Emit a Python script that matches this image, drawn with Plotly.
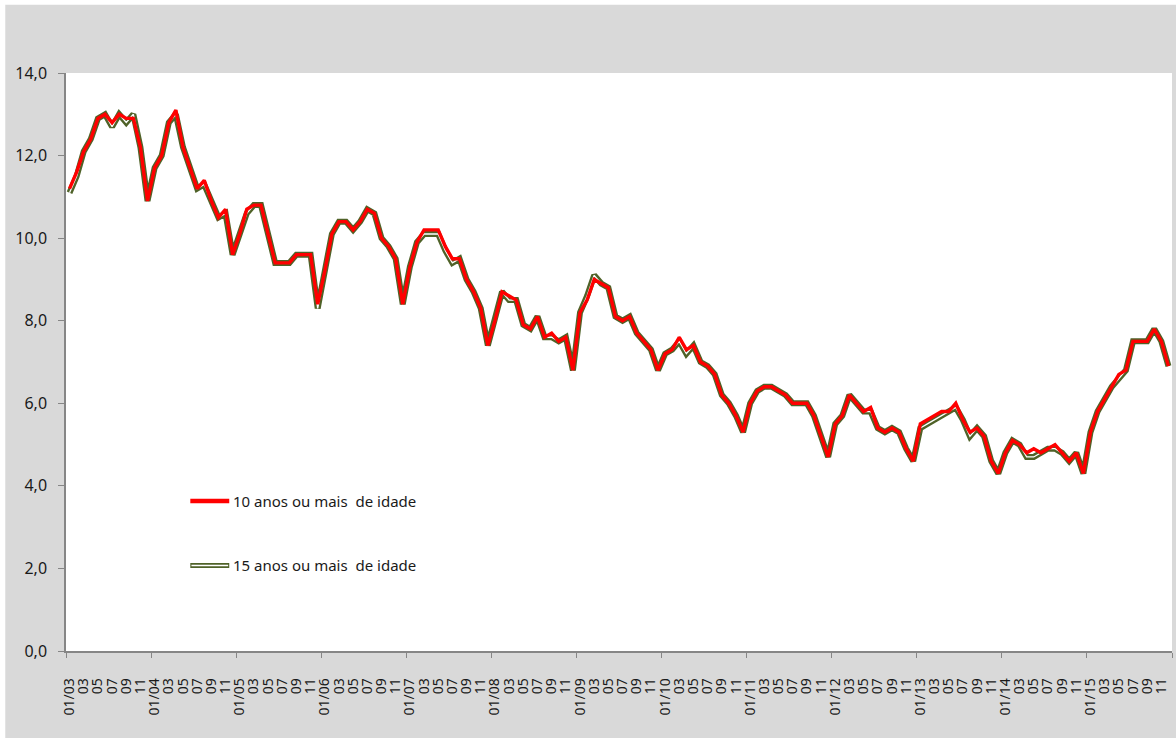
import plotly.graph_objects as go

# Monthly unemployment rate (%), Jan/2003 .. Dec/2015
years = list(range(2003, 2016))
months = ["01", "02", "03", "04", "05", "06", "07", "08", "09", "10", "11", "12"]

taxa_10_anos = [
    11.2, 11.6, 12.1, 12.4, 12.9, 13.0, 12.8, 13.0, 12.9, 12.9, 12.2, 10.9,  # 2003
    11.7, 12.0, 12.8, 13.1, 12.2, 11.7, 11.2, 11.4, 10.9, 10.5, 10.7, 9.6,   # 2004
    10.1, 10.7, 10.8, 10.8, 10.1, 9.4, 9.4, 9.4, 9.6, 9.6, 9.6, 8.4,         # 2005
    9.2, 10.1, 10.4, 10.4, 10.2, 10.4, 10.7, 10.6, 10.0, 9.8, 9.5, 8.4,      # 2006
    9.3, 9.9, 10.2, 10.2, 10.2, 9.8, 9.5, 9.5, 9.0, 8.7, 8.3, 7.4,           # 2007
    8.0, 8.7, 8.6, 8.5, 7.9, 7.8, 8.1, 7.6, 7.7, 7.5, 7.6, 6.8,              # 2008
    8.2, 8.5, 9.0, 8.9, 8.8, 8.1, 8.0, 8.1, 7.7, 7.5, 7.3, 6.8,              # 2009
    7.2, 7.3, 7.6, 7.3, 7.4, 7.0, 6.9, 6.7, 6.2, 6.0, 5.7, 5.3,              # 2010
    6.0, 6.3, 6.4, 6.4, 6.3, 6.2, 6.0, 6.0, 6.0, 5.7, 5.2, 4.7,              # 2011
    5.5, 5.7, 6.2, 6.0, 5.8, 5.9, 5.4, 5.3, 5.4, 5.3, 4.9, 4.6,              # 2012
    5.5, 5.6, 5.7, 5.8, 5.8, 6.0, 5.6, 5.3, 5.4, 5.2, 4.6, 4.3,              # 2013
    4.8, 5.1, 5.0, 4.8, 4.9, 4.8, 4.9, 5.0, 4.8, 4.6, 4.8, 4.3,              # 2014
    5.3, 5.8, 6.1, 6.4, 6.7, 6.8, 7.5, 7.5, 7.5, 7.8, 7.5, 6.9,              # 2015
]

taxa_15_anos = [
    11.1, 11.5, 12.1, 12.4, 12.9, 13.0, 12.7, 13.0, 12.8, 13.0, 12.2, 10.9,  # 2003
    11.7, 12.0, 12.8, 13.0, 12.2, 11.7, 11.2, 11.3, 10.9, 10.5, 10.6, 9.6,   # 2004
    10.1, 10.6, 10.8, 10.8, 10.1, 9.4, 9.4, 9.4, 9.6, 9.6, 9.6, 8.3,         # 2005
    9.2, 10.1, 10.4, 10.4, 10.2, 10.4, 10.7, 10.6, 10.0, 9.8, 9.5, 8.4,      # 2006
    9.3, 9.9, 10.1, 10.1, 10.1, 9.7, 9.4, 9.5, 9.0, 8.7, 8.3, 7.4,           # 2007
    8.0, 8.7, 8.5, 8.5, 7.9, 7.8, 8.1, 7.6, 7.6, 7.5, 7.6, 6.8,              # 2008
    8.2, 8.6, 9.1, 8.9, 8.8, 8.1, 8.0, 8.1, 7.7, 7.5, 7.3, 6.8,              # 2009
    7.2, 7.3, 7.5, 7.2, 7.4, 7.0, 6.9, 6.7, 6.2, 6.0, 5.7, 5.3,              # 2010
    6.0, 6.3, 6.4, 6.4, 6.3, 6.2, 6.0, 6.0, 6.0, 5.7, 5.2, 4.7,              # 2011
    5.5, 5.7, 6.2, 6.0, 5.8, 5.8, 5.4, 5.3, 5.4, 5.3, 4.9, 4.6,              # 2012
    5.4, 5.5, 5.6, 5.7, 5.8, 5.9, 5.6, 5.2, 5.4, 5.2, 4.6, 4.3,              # 2013
    4.8, 5.1, 5.0, 4.7, 4.7, 4.8, 4.9, 4.9, 4.8, 4.6, 4.8, 4.3,              # 2014
    5.3, 5.8, 6.1, 6.4, 6.6, 6.8, 7.5, 7.5, 7.5, 7.8, 7.5, 6.9,              # 2015
]

nome_10 = "10 anos ou mais  de idade"
nome_15 = "15 anos ou mais  de idade"

# category labels: "01/yy" for January, month number otherwise
categorias = [f"{m}/{str(y)[2:]}" for y in years for m in months]
idx = list(range(len(categorias)))
tick_idx = idx[::2]
tick_txt = [c if c.startswith("01/") else c[:2] for c in categorias[::2]]

RED = "#ff0000"
OLIVE = "#4f6228"
AXIS = "#868686"
BG = "#d9d9d9"
FONT = "Noto Sans"

fig = go.Figure()
# 15+ series drawn as a double line: olive outline with white core
fig.add_trace(go.Scatter(x=idx, y=taxa_15_anos, mode="lines", name=nome_15,
                         line=dict(color=OLIVE, width=6), showlegend=False,
                         hoverinfo="skip"))
fig.add_trace(go.Scatter(x=idx, y=taxa_15_anos, mode="lines", name=nome_15,
                         line=dict(color="white", width=1.3), showlegend=False))
fig.add_trace(go.Scatter(x=idx, y=taxa_10_anos, mode="lines", name=nome_10,
                         line=dict(color=RED, width=3.4), showlegend=False))

# hand-placed legend samples
lx0, lx1, ltxt = 0.1124, 0.1476, 0.1490
ly_10, ly_15 = 0.2597, 0.1480
shapes = [
    dict(type="line", xref="paper", yref="paper", x0=lx0, x1=lx1, y0=ly_10, y1=ly_10,
         line=dict(color=RED, width=4.5)),
    dict(type="line", xref="paper", yref="paper", x0=lx0, x1=lx1, y0=ly_15, y1=ly_15,
         line=dict(color=OLIVE, width=5)),
    dict(type="line", xref="paper", yref="paper", x0=lx0 + 0.001, x1=lx1 - 0.001,
         y0=ly_15, y1=ly_15, line=dict(color="white", width=1.5)),
    # white strip framing the grey chart area
    dict(type="rect", xref="paper", yref="paper", x0=-0.07, x1=1.01, y0=1.118, y1=1.14,
         fillcolor="white", line=dict(width=0), layer="below"),
    dict(type="rect", xref="paper", yref="paper", x0=-0.07, x1=-0.0549, y0=-0.2, y1=1.14,
         fillcolor="white", line=dict(width=0), layer="below"),
]
annotations = [
    dict(x=ltxt, y=ly_10, xref="paper", yref="paper", text=nome_10, showarrow=False,
         xanchor="left", yanchor="middle", font=dict(family=FONT, size=15, color="#1a1a1a")),
    dict(x=ltxt, y=ly_15, xref="paper", yref="paper", text=nome_15, showarrow=False,
         xanchor="left", yanchor="middle", font=dict(family=FONT, size=15, color="#1a1a1a")),
]

fig.update_layout(
    width=1176, height=738,
    margin=dict(l=66, r=4, t=73, b=87),
    paper_bgcolor=BG, plot_bgcolor="white",
    separators=",.",
    showlegend=False,
    shapes=shapes, annotations=annotations,
    font=dict(family=FONT, color="#1a1a1a"),
)
fig.update_xaxes(
    range=[-0.5, len(idx) - 0.5],
    tickmode="array", tickvals=tick_idx, ticktext=tick_txt,
    tickangle=-90, tickfont=dict(family=FONT, size=14, color="#1a1a1a"),
    ticks="outside", ticklen=5, tickcolor="rgba(0,0,0,0)",
    ticklabelstandoff=15,
    minor=dict(tickmode="linear", tick0=-0.5, dtick=12, ticks="outside",
               ticklen=5, tickcolor=AXIS, tickwidth=1, showgrid=False),
    showline=True, linecolor=AXIS, linewidth=1.5,
    showgrid=False, zeroline=False, fixedrange=True,
)
fig.update_yaxes(
    range=[0, 14], tickmode="linear", tick0=0, dtick=2, tickformat=".1f",
    tickfont=dict(family=FONT, size=16, color="#1a1a1a"),
    ticks="outside", ticklen=6, tickcolor=AXIS, tickwidth=1,
    ticklabelstandoff=8,
    showline=True, linecolor=AXIS, linewidth=1.5,
    showgrid=False, zeroline=False, fixedrange=True,
)

fig.write_html("out.html")
